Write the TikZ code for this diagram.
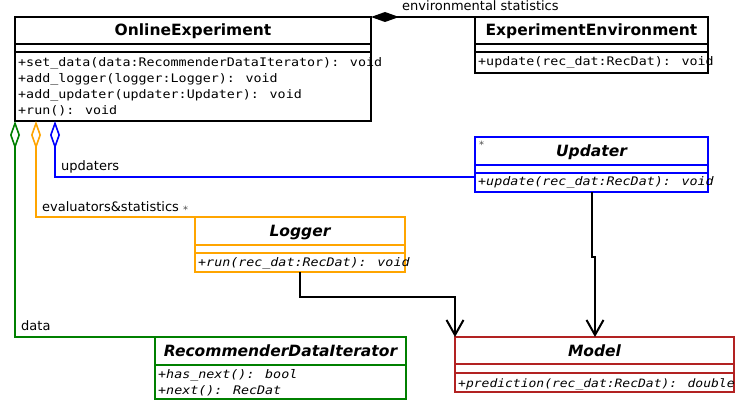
\documentclass[tikz,border=0pt]{standalone}
\usepackage{fontspec}
\setmainfont{DejaVu Sans}
\newfontfamily\monof[FakeStretch=1.13]{DejaVu Sans Mono}
\usetikzlibrary{arrows.meta,calc}
\definecolor{cgreen}{RGB}{0,128,0}
\definecolor{corange}{RGB}{255,165,0}
\definecolor{cblue}{RGB}{0,0,255}
\definecolor{cred}{RGB}{178,34,34}
\begin{document}
\begin{tikzpicture}[x=1pt,y=-1pt,
  classbox/.style={draw, line width=2pt, inner sep=0pt, outer sep=0pt, anchor=north west},
  cline/.style={line width=2pt},
  ctitle/.style={font=\bfseries\fontsize{15.5}{18}\selectfont, anchor=base, inner sep=0pt},
  ititle/.style={font=\bfseries\itshape\fontsize{15.5}{18}\selectfont, anchor=base, inner sep=0pt},
  meth/.style={font=\monof\fontsize{11.8}{16}\selectfont, anchor=base west, inner sep=0pt},
  imeth/.style={font=\monof\itshape\fontsize{11.8}{16}\selectfont, anchor=base west, inner sep=0pt},
  lab/.style={font=\fontsize{13}{15}\selectfont, anchor=base west, inner sep=0pt},
  mult/.style={font=\fontsize{10}{12}\selectfont, anchor=base west, inner sep=0pt, text=black!70},
  agg/.style={line width=2pt, {Diamond[open,fill=white,length=28pt,width=10pt,line width=1.6pt]}-},
  comp/.style={line width=2pt, {Diamond[length=28pt,width=10pt]}-},
  dep/.style={line width=2pt, -{Straight Barb[length=15pt,width=17pt]}}
]
\useasboundingbox (0,0) rectangle (735,401);

% OnlineExperiment
\node[classbox, minimum width=356pt, minimum height=104pt] (oe) at (15,17) {};
\draw[cline] ($(oe.north west)+(0,27)$) -- ($(oe.north east)+(0,27)$);
\draw[cline] ($(oe.north west)+(0,35)$) -- ($(oe.north east)+(0,35)$);
\node[ctitle] (oet) at (193,36) {OnlineExperiment};
\node[meth] (oem1) at (18,66.5) {+set\_data(data:RecommenderDataIterator): void};
\node[meth] (oem2) at (18,82.5) {+add\_logger(logger:Logger): void};
\node[meth] (oem3) at (18,98.5) {+add\_updater(updater:Updater): void};
\node[meth] (oem4) at (18,114.5) {+run(): void};

% ExperimentEnvironment
\node[classbox, minimum width=233pt, minimum height=56pt] (ee) at (475,17) {};
\draw[cline] ($(ee.north west)+(0,27)$) -- ($(ee.north east)+(0,27)$);
\draw[cline] ($(ee.north west)+(0,35)$) -- ($(ee.north east)+(0,35)$);
\node[ctitle] (eet) at (591.5,36) {ExperimentEnvironment};
\node[meth] (eem1) at (478,66) {+update(rec\_dat:RecDat): void};

% Updater
\node[classbox, draw=cblue, minimum width=233pt, minimum height=55pt] (upd) at (475,137) {};
\draw[cline, cblue] ($(upd.north west)+(0,28)$) -- ($(upd.north east)+(0,28)$);
\draw[cline, cblue] ($(upd.north west)+(0,36)$) -- ($(upd.north east)+(0,36)$);
\node[ititle] (updt) at (591.5,156) {Updater};
\node[mult] (updstar) at (479,148) {*};
\node[imeth] (updm1) at (478,185.5) {+update(rec\_dat:RecDat): void};

% Logger
\node[classbox, draw=corange, minimum width=210pt, minimum height=55pt] (logger) at (195,217) {};
\draw[cline, corange] ($(logger.north west)+(0,28)$) -- ($(logger.north east)+(0,28)$);
\draw[cline, corange] ($(logger.north west)+(0,36)$) -- ($(logger.north east)+(0,36)$);
\node[ititle] (logt) at (300,236) {Logger};
\node[imeth] (logm1) at (198,266.5) {+run(rec\_dat:RecDat): void};

% RecommenderDataIterator
\node[classbox, draw=cgreen, minimum width=251pt, minimum height=62pt] (rdi) at (155,337) {};
\draw[cline, cgreen] ($(rdi.north west)+(0,28)$) -- ($(rdi.north east)+(0,28)$);
\node[ititle] (rdit) at (280.5,356) {RecommenderDataIterator};
\node[imeth] (rdim1) at (158,378.5) {+has\_next(): bool};
\node[imeth] (rdim2) at (158,394.5) {+next(): RecDat};

% Model
\node[classbox, draw=cred, minimum width=279pt, minimum height=55pt] (model) at (455,337) {};
\draw[cline, cred] ($(model.north west)+(0,27)$) -- ($(model.north east)+(0,27)$);
\draw[cline, cred] ($(model.north west)+(0,36)$) -- ($(model.north east)+(0,36)$);
\node[ititle] (modt) at (594.5,356) {Model};
\node[imeth, font=\monof\itshape\fontsize{11.5}{16}\selectfont] (modm1) at (458,387.5) {+prediction(rec\_dat:RecDat): double};

% connectors
\draw[comp] (oe.north east) -- (ee.north west);
\node[lab] (envlab) at (402,11) {environmental statistics};

\draw[agg, cgreen] (oe.south west) |- (rdi.north west);
\node[lab] (datalab) at (21,330) {data};

\draw[agg, corange] ($(oe.south west)+(21,0)$) |- (logger.north west);
\node[lab] (evlab) at (42,211) {evaluators\&statistics};
\node[mult] (evstar) at (183,213) {*};

\draw[agg, cblue] ($(oe.south west)+(40,0)$) |- ($(upd.south west)+(0,-15)$);
\node[lab] (updlab) at (61,170) {updaters};

\draw[dep] (logger.south) -- ++(0,25) -| (model.north west);
\draw[dep] ($(upd.south)+(0.5,0)$) -- ++(0,65) -| ($(model.north west)+(140,0)$);
\end{tikzpicture}
\end{document}
